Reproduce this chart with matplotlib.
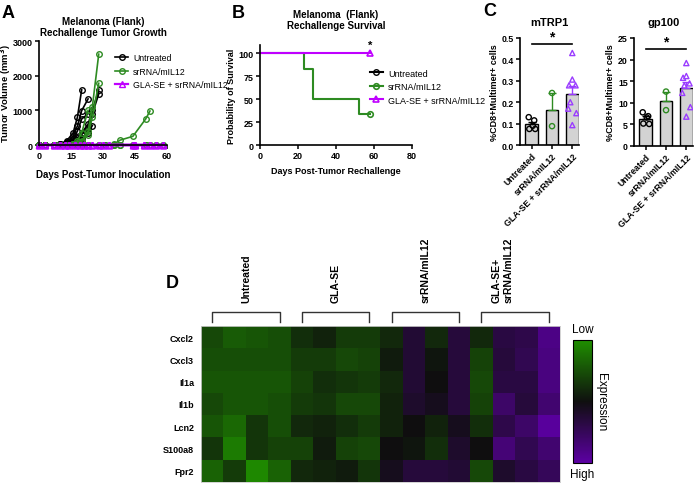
import numpy as np
import matplotlib
matplotlib.use("Agg")
import matplotlib.pyplot as plt
import matplotlib.ticker as mticker
import matplotlib.transforms as mtransforms
from matplotlib.colors import LinearSegmentedColormap

plt.rcParams["font.family"] = ["Liberation Sans", "DejaVu Sans"]

GREEN = "#2e8b22"
MAGENTA = "#bf00ff"
VIOLET = "#9a3cff"

# ---- panel A: tumor growth (one list per mouse) ----
untx_days = [
    [0, 3, 7, 10, 13, 16, 18, 20],
    [0, 3, 7, 10, 13, 16, 18, 20, 23],
    [0, 3, 7, 10, 13, 16, 18, 20, 23],
    [0, 3, 7, 10, 13, 16, 18, 20, 23, 25, 28],
    [0, 3, 7, 10, 13, 16, 18, 20, 23, 25, 28],
    [0, 3, 7, 10, 13, 16, 18, 20, 23, 25],
]
untx_vol = [
    [0, 0, 10, 40, 120, 350, 800, 1590],
    [0, 0, 5, 30, 90, 250, 550, 990, 1330],
    [0, 0, 5, 20, 60, 180, 400, 750, 900],
    [0, 0, 0, 10, 40, 100, 200, 350, 600, 1000, 1590],
    [0, 0, 0, 10, 30, 80, 150, 300, 500, 900, 1470],
    [0, 0, 0, 10, 30, 60, 120, 200, 350, 560],
]
sr_days = [
    [0, 3, 7, 10, 13, 16, 18, 20, 23, 25, 28],
    [0, 3, 7, 10, 13, 16, 18, 20, 23, 25, 28],
    [0, 3, 7, 10, 13, 16, 18, 20, 23],
    [0, 3, 7, 10, 13, 16, 20, 23, 28, 31, 35, 38, 44, 50, 52],
    [0, 3, 7, 10, 13, 16, 20, 23, 28, 31, 35, 38, 44, 50, 52, 55, 58],
    [0, 3, 7, 10, 13, 16, 20, 23, 28, 31, 35, 38, 44, 50, 52, 55, 58],
]
sr_vol = [
    [0, 0, 0, 0, 10, 30, 60, 120, 400, 1100, 2620],
    [0, 0, 0, 0, 5, 20, 40, 100, 300, 800, 1780],
    [0, 0, 0, 0, 10, 40, 120, 350, 1000],
    [0, 0, 0, 0, 0, 0, 0, 0, 0, 0, 20, 140, 250, 750, 980],
    [0, 0, 0, 0, 0, 0, 0, 0, 0, 0, 0, 0, 0, 0, 0, 0, 0],
    [0, 0, 0, 0, 0, 0, 0, 0, 0, 0, 0, 0, 0, 0, 0, 0, 0],
]
combo_days = [0, 3, 7, 10, 12, 14, 17, 19, 21, 23, 25, 28, 30, 33, 44, 45, 49, 52, 55, 58]
combo_vol = [0] * len(combo_days)
n_combo = 6

# ---- panel B: survival ----
surv_sr_days = [0, 23, 28, 52, 58]
surv_sr = [100, 83.3, 50, 33.3, 33.3]
surv_combo_days = [0, 58]
surv_combo = [100, 100]

# ---- panel C: multimer+ CD8 ----
groups_c = ["Untreated", "srRNA/mIL12", "GLA-SE + srRNA/mIL12"]
trp1_pts = [
    [0.13, 0.115, 0.09, 0.075, 0.075],
    [0.243, 0.088],
    [0.43, 0.306, 0.279, 0.279, 0.20, 0.17, 0.149, 0.093],
]
gp100_pts = [
    [7.8, 6.9, 6.6, 5.2, 5.1],
    [12.6, 8.3],
    [19.2, 16.2, 15.8, 14.5, 14.0, 12.3, 9.0, 6.8],
]

# ---- panel D: heatmap (negative = low / green, positive = high / purple) ----
genes = ["Cxcl2", "Cxcl3", "Il1a", "Il1b", "Lcn2", "S100a8", "Fpr2"]
groups_d = ["Untreated", "GLA-SE", "srRNA/mIL12", "GLA-SE+\nsrRNA/mIL12"]
expr = np.array([
    [-0.45, -0.6, -0.55, -0.5, -0.25, -0.15, -0.35, -0.35, -0.2, 0.25, -0.2, 0.3, -0.2, 0.35, 0.4, 0.8],
    [-0.5, -0.5, -0.5, -0.5, -0.35, -0.35, -0.45, -0.4, -0.1, 0.25, -0.05, 0.3, -0.4, 0.3, 0.45, 0.75],
    [-0.55, -0.55, -0.55, -0.55, -0.4, -0.25, -0.3, -0.35, -0.2, 0.25, 0.0, 0.3, -0.45, 0.35, 0.35, 0.75],
    [-0.45, -0.55, -0.55, -0.5, -0.35, -0.3, -0.45, -0.45, -0.15, 0.2, 0.1, 0.3, -0.4, 0.6, 0.3, 0.65],
    [-0.55, -0.7, -0.3, -0.5, -0.2, -0.15, -0.25, -0.35, -0.15, 0.0, -0.15, 0.1, -0.25, 0.4, 0.6, 0.95],
    [-0.3, -0.85, -0.3, -0.4, -0.4, -0.1, -0.4, -0.45, 0.0, -0.05, -0.25, 0.2, 0.0, 0.7, 0.45, 0.65],
    [-0.65, -0.35, -0.95, -0.65, -0.2, -0.15, -0.1, -0.3, 0.1, 0.3, 0.3, 0.25, -0.45, 0.2, 0.35, 0.5],
])

W, H = 700, 485


def px_axes(fig, x0, y0, x1, y1):
    return fig.add_axes([x0 / W, 1 - y1 / H, (x1 - x0) / W, (y1 - y0) / H])


def prism(ax, fs=6.5):
    for s in ["top", "right"]:
        ax.spines[s].set_visible(False)
    for s in ["left", "bottom"]:
        ax.spines[s].set_linewidth(1.2)
    ax.tick_params(width=1.1, length=3, labelsize=fs, pad=1.5)
    for lab in ax.get_xticklabels() + ax.get_yticklabels():
        lab.set_fontweight("bold")


fig = plt.figure(figsize=(7, 4.85), dpi=100)

# ---------------- A ----------------
axA = px_axes(fig, 39, 42, 167, 146)
for d, v in zip(untx_days, untx_vol):
    hU, = axA.plot(d, v, "-o", color="black", mfc="none", ms=4, mew=1, lw=1.2, clip_on=False)
for d, v in zip(sr_days, sr_vol):
    hS, = axA.plot(d, v, "-o", color=GREEN, mfc="none", ms=4, mew=1, lw=1.2, clip_on=False)
for i in range(n_combo):
    hC, = axA.plot(combo_days, combo_vol, "-^", color=MAGENTA, mfc="none", ms=4, mew=1,
                   lw=1.6, clip_on=False)
axA.set_xlim(0, 60)
axA.set_ylim(0, 3000)
axA.set_xticks([0, 15, 30, 45, 60])
axA.set_yticks([0, 1000, 2000, 3000])
prism(axA)
axA.set_xlabel("Days Post-Tumor Inoculation", fontsize=7, fontweight="bold", labelpad=6)
axA.set_ylabel("Tumor Volume (mm$^\\mathbf{3}$)", fontsize=6.8, fontweight="bold")
axA.yaxis.set_label_coords(-0.2, 0.5)
axA.set_title("Melanoma (Flank)\nRechallenge Tumor Growth", fontsize=7, fontweight="bold", pad=4)
axA.legend([hU, hS, hC], groups_c, loc="upper left", bbox_to_anchor=(0.57, 0.915),
           frameon=False, fontsize=6.3, handlelength=1.4, handletextpad=0.6,
           labelspacing=0.5, borderaxespad=0)

# ---------------- B ----------------
axB = px_axes(fig, 260, 46, 412, 146)
hBU, = axB.plot([], [], "-o", color="black", mfc="none", ms=4, mew=1, lw=1.5)
axB.plot(surv_sr_days, surv_sr, color=GREEN, lw=1.5, drawstyle="steps-post", clip_on=False)
hBS, = axB.plot(surv_sr_days[-1:], surv_sr[-1:], "-o", color=GREEN, mfc="none", ms=4,
                mew=1.2, lw=1.5, clip_on=False)
axB.plot(surv_combo_days, surv_combo, color=MAGENTA, lw=1.5, drawstyle="steps-post", clip_on=False)
hBC, = axB.plot(surv_combo_days[-1:], surv_combo[-1:], "-^", color=MAGENTA, mfc="none", ms=4,
                mew=1.2, lw=1.5, clip_on=False)
axB.text(surv_combo_days[-1], 104, "*", ha="center", va="bottom", fontsize=8, fontweight="bold")
axB.set_xlim(0, 80)
axB.set_ylim(0, 109)
axB.set_xticks([0, 20, 40, 60, 80])
axB.set_yticks([0, 25, 50, 75, 100])
prism(axB)
axB.set_xlabel("Days Post-Tumor Rechallenge", fontsize=6.5, fontweight="bold", labelpad=4)
axB.set_ylabel("Probability of Survival", fontsize=6.5, fontweight="bold", labelpad=2)
axB.set_title("Melanoma  (Flank)\nRechallenge Survival", fontsize=7, fontweight="bold", pad=12)
axB.legend([hBU, hBS, hBC], groups_c, loc="upper left", bbox_to_anchor=(0.70, 0.80),
           frameon=False, fontsize=6.5, handlelength=1.4, handletextpad=0.6,
           labelspacing=0.5, borderaxespad=0)


# ---------------- C ----------------
def bar_panel(ax, pts, ymax, yticks, title, star_y):
    colors = ["black", GREEN, VIOLET]
    markers = ["o", "o", "^"]
    offs = [
        [-0.15, 0.12, 0.05, -0.12, 0.17],
        [0.0, 0.0],
        [0.0, 0.0, -0.16, 0.16, -0.1, -0.2, 0.2, 0.0],
    ]
    for i, p in enumerate(pts):
        p = np.asarray(p)
        m = p.mean()
        sem = p.std(ddof=1) / np.sqrt(len(p))
        ax.bar(i, m, width=0.62, color="#d3d3d3", edgecolor="black", lw=1.0, zorder=1)
        ax.errorbar(i, m, yerr=[[0], [sem]], color=colors[i], capsize=3, lw=1.0,
                    capthick=1.0, zorder=2)
        ax.scatter(i + np.array(offs[i][:len(p)]), p, marker=markers[i], s=14,
                   facecolor="none", edgecolor=colors[i], lw=1.0, zorder=3)
    ax.plot([0, 2], [star_y, star_y], color="black", lw=1.2, clip_on=False)
    ax.text(1, star_y * 1.005, "*", ha="center", va="bottom", fontsize=10, fontweight="bold")
    ax.set_xlim(-0.58, 2.33)
    ax.set_ylim(0, ymax)
    ax.set_yticks(yticks)
    ax.set_xticks(range(len(groups_c)))
    ax.set_xticklabels(groups_c, rotation=45, ha="right", rotation_mode="anchor")
    prism(ax, fs=6.3)
    ax.set_ylabel("%CD8+Multimer+ cells", fontsize=6.5, fontweight="bold", labelpad=2)
    ax.set_title(title, fontsize=8, fontweight="bold", pad=9)


axC1 = px_axes(fig, 520, 39, 579, 146)
bar_panel(axC1, trp1_pts, 0.5, [0.0, 0.1, 0.2, 0.3, 0.4, 0.5], "mTRP1", 0.47)
axC1.yaxis.set_major_formatter(mticker.FormatStrFormatter("%.1f"))
for lab in axC1.get_yticklabels():
    lab.set_fontweight("bold")
axC2 = px_axes(fig, 634, 39, 693, 147)
bar_panel(axC2, gp100_pts, 25, [0, 5, 10, 15, 20, 25], "gp100", 22.5)

# ---------------- D ----------------
cmap = LinearSegmentedColormap.from_list("gkp", ["#1f8f00", "#0f0f0f", "#5c00a3"])
axD = px_axes(fig, 201, 327, 560, 483)
im = axD.imshow(expr, cmap=cmap, vmin=-1, vmax=1, aspect="auto", interpolation="nearest")
axD.set_xticks([])
axD.set_yticks(range(len(genes)))
axD.set_yticklabels(genes, fontsize=6.5, fontweight="bold")
axD.tick_params(length=0, pad=5)
for s in axD.spines.values():
    s.set_edgecolor("#cccccc")
    s.set_linewidth(0.6)
tr = mtransforms.blended_transform_factory(axD.transData, axD.transAxes)
for g, name in enumerate(groups_d):
    x0, x1 = 4 * g, 4 * g + 3
    axD.plot([x0, x0, x1, x1], [1.026, 1.09, 1.09, 1.026], color="#333333", lw=1.0,
             transform=tr, clip_on=False)
    axD.text(4 * g + 1.5 - (0.55 if "\n" in name else 0), 1.155, name, rotation=90,
             ha="center", va="bottom", fontsize=7.5, fontweight="bold", transform=tr,
             multialignment="left")

cax = px_axes(fig, 573, 341, 592, 464)
cb = fig.colorbar(im, cax=cax, ticks=[])
cb.outline.set_linewidth(0.8)
cax.invert_yaxis()
cax.text(0.5, 1.04, "Low", transform=cax.transAxes, ha="center", va="bottom", fontsize=8.5)
cax.text(0.5, -0.04, "High", transform=cax.transAxes, ha="center", va="top", fontsize=8.5)
cax.text(1.45, 0.5, "Expression", transform=cax.transAxes, ha="center", va="center",
         rotation=-90, fontsize=8.5)

# panel letters
for letter, x, y in [("A", 8, 14), ("B", 238, 14), ("C", 490, 12), ("D", 172, 283)]:
    fig.text(x / W, 1 - y / H, letter, fontsize=13, fontweight="bold", ha="center", va="center")

fig.savefig("out.png", dpi=100)
